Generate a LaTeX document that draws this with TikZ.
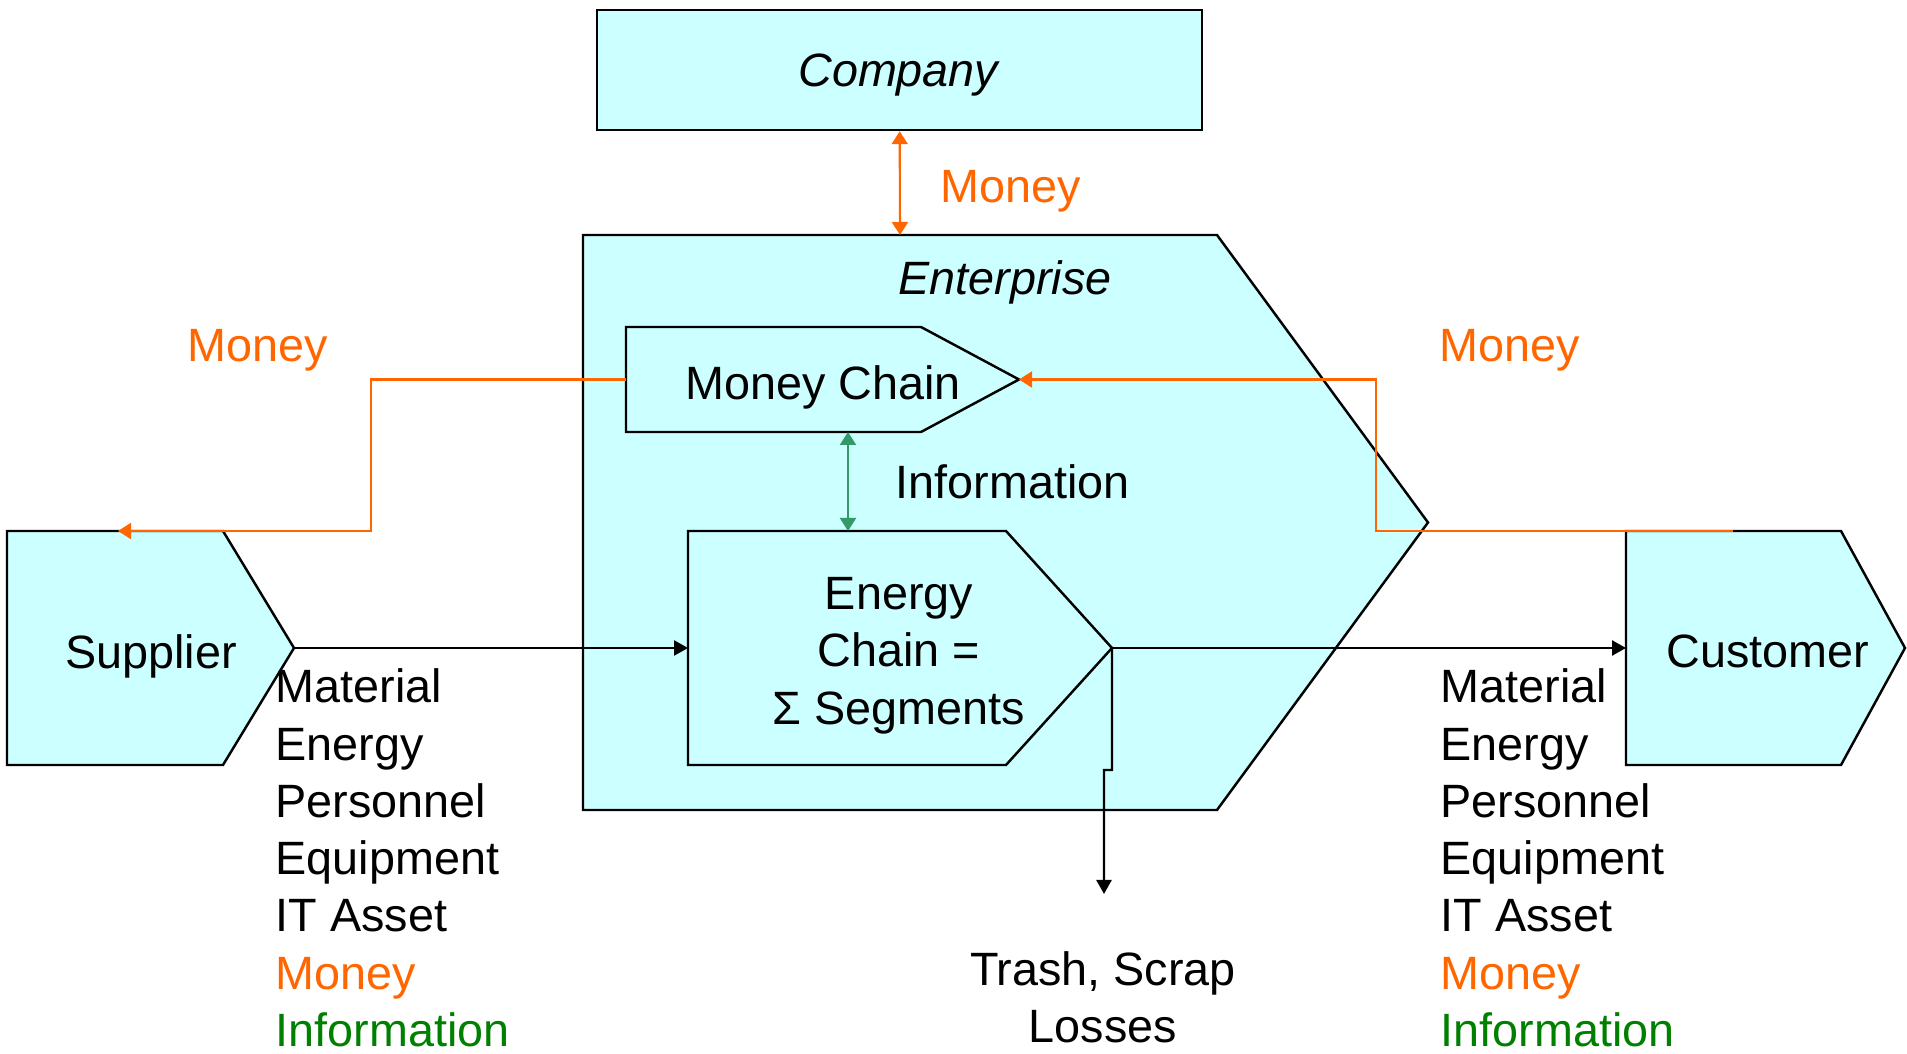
\documentclass[tikz,border=0pt]{standalone}
\usepackage{fontspec}
\setmainfont{Liberation Sans}
\usetikzlibrary{arrows.meta}
\definecolor{chaincyan}{HTML}{CCFFFF}
\definecolor{moneyorange}{HTML}{FF6600}
\definecolor{infogreen}{HTML}{339966}
\definecolor{textgreen}{HTML}{008000}
\tikzset{
  chainbox/.style={draw=black, fill=chaincyan, line width=0.7pt},
  flow/.style={line width=0.7pt, -{Triangle[length=1.4mm,width=1.5mm]}},
  moneyflow/.style={moneyorange, line width=0.6pt, -{Triangle[length=1.3mm,width=1.6mm]}},
  twoway/.style={line width=0.6pt, {Triangle[length=1.3mm,width=1.6mm]}-{Triangle[length=1.3mm,width=1.6mm]}},
  txt/.style={font=\fontsize{13.3}{16.3}\selectfont, inner sep=0pt},
}
\begin{document}
\begin{tikzpicture}
  \useasboundingbox (0,0) rectangle (19.07,10.53);
  % enterprise frame
  \draw[chainbox] (5.83,8.18) -- (12.17,8.18) -- (14.28,5.305) -- (12.17,2.43) -- (5.83,2.43) -- cycle;
  \coordinate (ent-top) at (9.00,8.18);
  \node (enterprise) [txt] at (10.05,7.71) {\textit{Enterprise}};
  % company on top
  \node (company) [chainbox, minimum width=6.05cm, minimum height=1.20cm, txt, text depth=0pt] at (8.995,9.83) {\textit{Company}};
  % money chain
  \draw[chainbox] (6.26,7.26) -- (9.21,7.26) -- (10.19,6.735) -- (9.21,6.21) -- (6.26,6.21) -- cycle;
  \coordinate (mc-w) at (6.26,6.735);
  \coordinate (mc-tip) at (10.19,6.735);
  \coordinate (mc-s) at (8.48,6.21);
  \node (moneychain) [txt] at (8.23,6.66) {Money Chain};
  % energy chain
  \draw[chainbox] (6.88,5.22) -- (10.06,5.22) -- (11.12,4.05) -- (10.06,2.88) -- (6.88,2.88) -- cycle;
  \coordinate (ec-w) at (6.88,4.05);
  \coordinate (ec-tip) at (11.12,4.05);
  \coordinate (ec-n) at (8.48,5.22);
  \node (energychain) [txt, align=center] at (8.99,3.975) {Energy\\Chain =\\Σ Segments};
  % supplier and customer
  \draw[chainbox] (0.07,5.22) -- (2.23,5.22) -- (2.94,4.05) -- (2.23,2.88) -- (0.07,2.88) -- cycle;
  \coordinate (sup-tip) at (2.94,4.05);
  \coordinate (sup-pay) at (1.18,5.22);
  \node (supplier) [txt] at (1.51,3.97) {Supplier};
  \draw[chainbox] (16.26,5.22) -- (18.41,5.22) -- (19.05,4.05) -- (18.41,2.88) -- (16.26,2.88) -- cycle;
  \coordinate (cus-w) at (16.26,4.05);
  \coordinate (cus-pay) at (17.33,5.22);
  \node (customer) [txt] at (17.68,4.02) {Customer};
  % flows
  \draw[twoway, moneyorange] (company) -- (ent-top);
  \node (money-top) [txt, anchor=west, text=moneyorange] at (9.40,8.62) {Money};
  \draw[twoway, infogreen] (mc-s) -- (ec-n);
  \node (info) [txt, anchor=west] at (8.95,5.71) {Information};
  \draw[flow] (sup-tip) -- (ec-w);
  \draw[flow] (ec-tip) -- (cus-w);
  \coordinate (trash-end) at (11.04,1.59);
  \draw[flow] (ec-tip) -- ++(0,-1.22) -- ++(-0.08,0) -- (trash-end);
  \node (trash) [txt, align=center] at (11.03,0.56) {Trash, Scrap\\Losses};
  \draw[moneyflow] (mc-w) -- ++(-2.55,0) |- (sup-pay);
  \node (money-left) [txt, text=moneyorange] at (2.58,7.03) {Money};
  \draw[moneyflow] (cus-pay) -- ++(-3.57,0) |- (mc-tip);
  \node (money-right) [txt, text=moneyorange] at (15.10,7.03) {Money};
  % what goes in and out
  \node (in-list) [txt, anchor=west, align=left] at (2.75,1.95) {Material\\Energy\\Personnel\\Equipment\\IT Asset\\\textcolor{moneyorange}{Money}\\\textcolor{textgreen}{Information}};
  \node (out-list) [txt, anchor=west, align=left] at (14.40,1.95) {Material\\Energy\\Personnel\\Equipment\\IT Asset\\\textcolor{moneyorange}{Money}\\\textcolor{textgreen}{Information}};
\end{tikzpicture}
\end{document}
